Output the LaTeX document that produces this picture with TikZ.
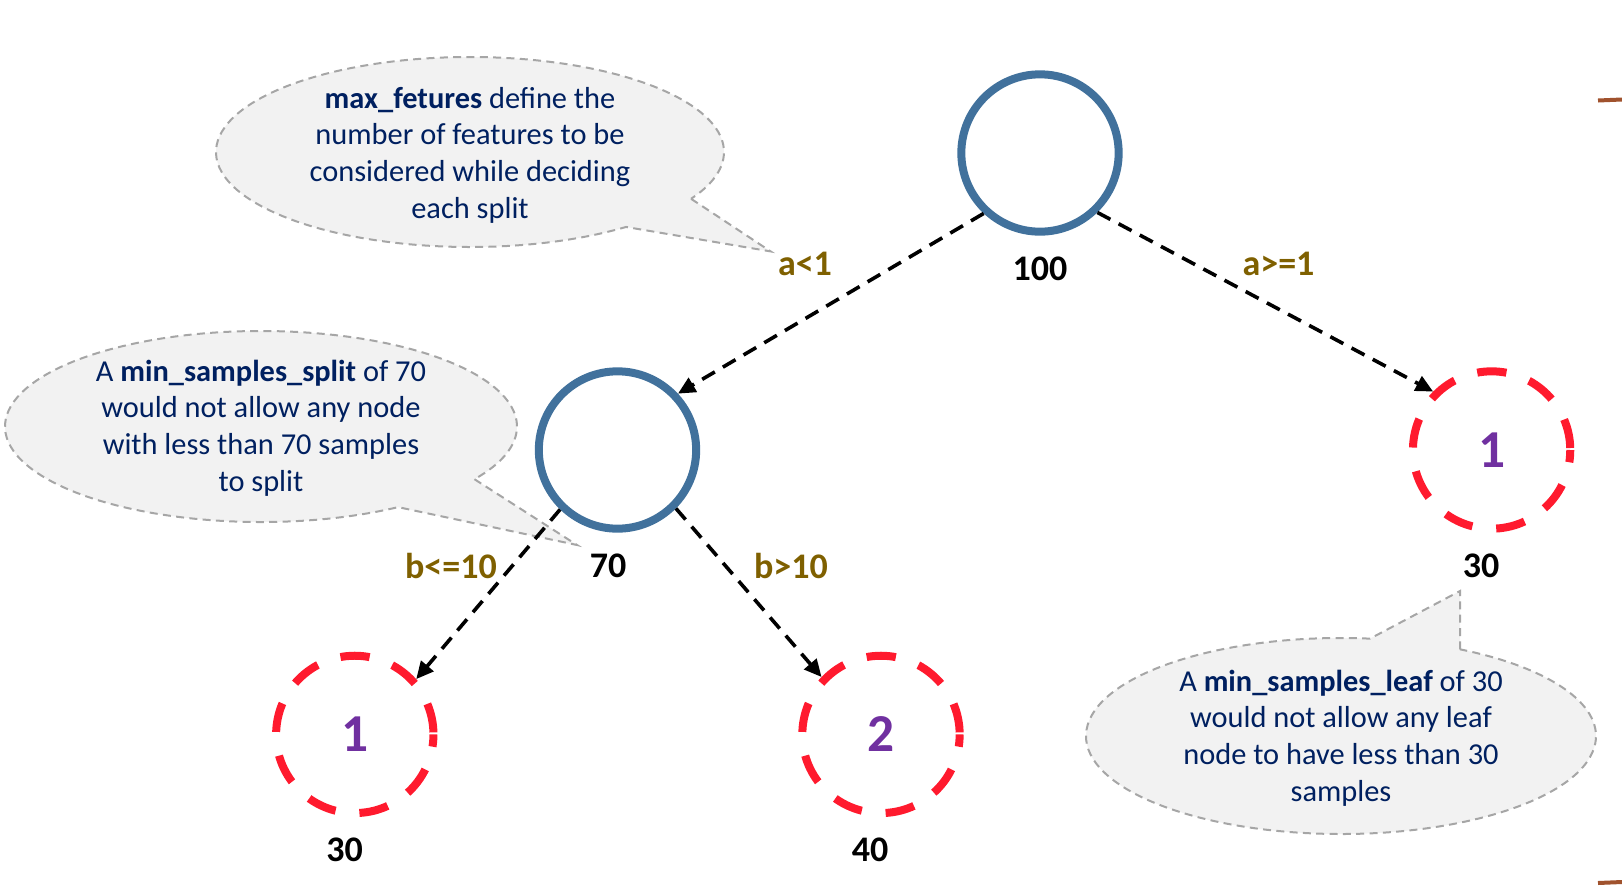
\documentclass[tikz,border=0pt]{standalone}
\usepackage{fontspec}
\setmainfont{Carlito}
\usetikzlibrary{calc,arrows.meta}
\definecolor{navy}{HTML}{002060}
\definecolor{nodeblue}{HTML}{41719C}
\definecolor{leafred}{HTML}{FF1A2E}
\definecolor{digitpurple}{HTML}{7030A0}
\definecolor{labelbrown}{HTML}{7F6000}
\definecolor{bubblefill}{HTML}{F2F2F2}
\definecolor{bubbleline}{HTML}{A6A6A6}
\definecolor{bracebrown}{HTML}{A0522D}
\begin{document}
\begin{tikzpicture}[x=0.75pt,y=-0.75pt,
  innernode/.style={circle,draw=nodeblue,line width=6pt,minimum size=118pt,inner sep=0pt},
  leafnode/.style={circle,draw=leafred,line width=6pt,dash pattern=on 22pt off 18pt,dash phase=38.5pt,minimum size=118pt,inner sep=0pt,text=digitpurple,font=\fontsize{40}{44}\selectfont\bfseries},
  countlabel/.style={font=\fontsize{27}{30}\selectfont\bfseries,text=black,inner sep=0pt},
  condlabel/.style={font=\fontsize{27}{30}\selectfont\bfseries,text=labelbrown,inner sep=0pt},
  edgearrow/.style={draw=black,line width=2.7pt,dash pattern=on 11pt off 7pt,-{Triangle[length=13pt,width=12pt]}},
  bubbleshape/.style={draw=bubbleline,fill=bubblefill,line width=1.5pt,dash pattern=on 6pt off 4pt},
  bubbletext/.style={align=center,text=navy,font=\fontsize{22.8}{27.5}\selectfont,inner sep=0pt},
  bracemark/.style={draw=bracebrown,line width=3pt},
]
\useasboundingbox (0,0) rectangle (1622,886);

% callout 1
\coordinate (cc1) at (470,152);
\coordinate (tip1) at (770.6,251.4);
\path[bubbleshape] ($(cc1)+(29.5:254 and 95)$) -- (tip1) -- ($(cc1)+(52.1:254 and 95)$)
   arc[start angle=52.1, end angle=389.5, x radius=254, y radius=95] -- cycle;
\node[bubbletext] (t1) at (470,155) {\textbf{max\_fetures} define the\\number of features to be\\considered while deciding\\each split};

% callout 2
\coordinate (cc2) at (261,426.5);
\coordinate (tip2) at (577,545);
\path[bubbleshape] ($(cc2)+(33.5:256 and 95.5)$) -- (tip2) -- ($(cc2)+(57.6:256 and 95.5)$)
   arc[start angle=57.6, end angle=393.5, x radius=256, y radius=95.5] -- cycle;
\node[bubbletext] (t2) at (261,428) {A \textbf{min\_samples\_split} of 70\\would not allow any node\\with less than 70 samples\\to split};

% callout 3
\coordinate (cc3) at (1341,736);
\coordinate (tip3) at (1460,591);
\path[bubbleshape] ($(cc3)+(-62.18:255 and 98)$) -- (tip3) -- ($(cc3)+(-83.47:255 and 98)$)
   arc[start angle=-83.47, end angle=-422.18, x radius=255, y radius=98] -- cycle;
\node[bubbletext] (t3) at (1341,738) {A \textbf{min\_samples\_leaf} of 30\\would not allow any leaf\\node to have less than 30\\samples};

% tree nodes
\node[innernode] (root) at (1040,153) {};
\node[innernode] (n70) at (617.5,450) {};
\node[leafnode] (rleaf) at (1491.6,450) {1};
\node[leafnode] (lleaf) at (354.8,734.4) {1};
\node[leafnode] (mleaf) at (881,734.4) {2};

% counts
\node[countlabel] (k100) at (1040,269) {100};
\node[countlabel] (k70) at (608,566) {70};
\node[countlabel] (k30a) at (1481,566) {30};
\node[countlabel] (k30b) at (344.5,850) {30};
\node[countlabel] (k40) at (870,850) {40};

% edges
\draw[edgearrow] (root.227) -- (n70.43);
\draw[edgearrow] (root.314) -- (rleaf.135);
\draw[edgearrow] (n70.226) -- (lleaf.42);
\draw[edgearrow] (n70.315) -- (mleaf.136);

% conditions
\node[condlabel] (ca) at (805,264) {a<1};
\node[condlabel] (cb) at (1278.5,264) {a>=1};
\node[condlabel] (cc) at (451,566) {b<=10};
\node[condlabel] (cd) at (791,566) {b>10};

% cut-off marks at right edge
\coordinate (m1a) at (1598,100.5);
\coordinate (m1b) at (1622,99.5);
\coordinate (m2a) at (1598,883);
\coordinate (m2b) at (1622,882);
\draw[bracemark] (m1a) -- (m1b);
\draw[bracemark] (m2a) -- (m2b);
\end{tikzpicture}
\end{document}
